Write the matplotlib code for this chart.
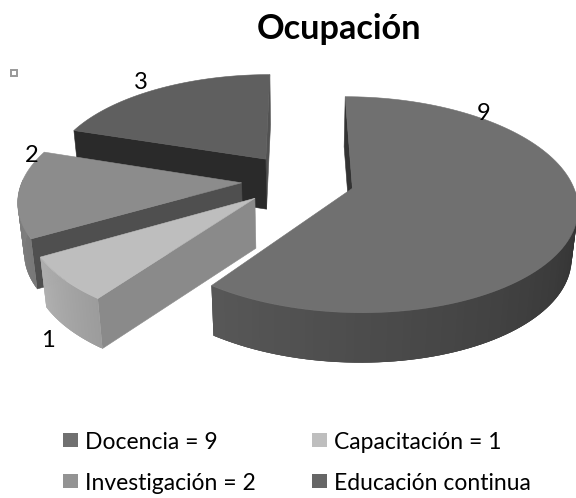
"""Ocupación: exploded 3D pie drawn by hand, matplotlib's pie has no perspective."""
import matplotlib

matplotlib.use("Agg")
import matplotlib.pyplot as plt
import numpy as np
from matplotlib.patches import Polygon, Rectangle

CATEGORIES = ["Docencia", "Capacitación", "Investigación", "Educación continua"]
VALUES = [9, 1, 2, 3]
LEGEND_LABELS = ["Docencia = 9", "Capacitación = 1", "Investigación = 2", "Educación continua"]
TITLE = "Ocupación"

# projection, in output pixels
CX, CY = 298, 180
RX, RY = 219, 103
PERSP = 0.15
EXPLODE = 0.258
DEPTH = 50
DEPTH_SHRINK = 0.977

TOP_COLORS = ["#707070", "#bebebe", "#8c8c8c", "#5f5f5f"]
LEGEND_COLORS = ["#707070", "#bebebe", "#939393", "#666666"]
# side faces that can be seen: (0 = start of the slice, 1 = end of it, colour)
CUT_FACES = [[(0, "#333333")], [(0, "#8a8a8a")], [(0, "#4f4f4f")], [(1, "#525252"), (0, "#2a2a2a")]]
RIM_GRAYS = [(0x30, 0x58), (0x9c, 0xb0), (0x78, 0x80), (0x50, 0x50)]
LABEL_POS = [(484, 113), (48, 340), (32, 155), (141, 82)]
LEGEND_POS = [(63, 433), (312, 433), (63, 474), (312, 474)]

plt.rcParams["font.family"] = ["Lato", "DejaVu Sans"]


def project(x, y):
    s = 1 / (1 + PERSP * y)
    return CX + RX * x * s, CY - RY * y * s


def drop(px, py):
    """Same point on the bottom of the disc."""
    return CX + (px - CX) * DEPTH_SHRINK, py + DEPTH


def ring(theta, ox, oy):
    t = np.radians(theta)
    return project(np.sin(t) + ox, np.cos(t) + oy)


fig = plt.figure(figsize=(5.76, 4.98), dpi=100)
ax = fig.add_axes([0, 0, 1, 1])
ax.set_xlim(0, 576)
ax.set_ylim(498, 0)
ax.axis("off")

ends = np.cumsum(VALUES) / np.sum(VALUES) * 360
starts = np.r_[0, ends[:-1]]

for i in [3, 2, 1, 0]:  # back to front
    a0, a1 = starts[i], ends[i]
    mid = np.radians((a0 + a1) / 2)
    ox, oy = EXPLODE * np.sin(mid), EXPLODE * np.cos(mid)
    apex = project(ox, oy)
    thetas = np.linspace(a0, a1, 120)
    xs, ys = ring(thetas, ox, oy)

    # straight cut faces
    for end, color in CUT_FACES[i]:
        p = ring(a1 if end else a0, ox, oy)
        quad = [apex, p, drop(*p), drop(*apex)]
        ax.add_patch(Polygon(quad, closed=True, fc=color, ec=color, lw=0.4))

    # outer rim, quads overlap the next one so no seams show through the shading
    g_right, g_left = RIM_GRAYS[i]
    vis = np.where((thetas >= 90) & (thetas <= 272))[0]
    for j in vis[:-1]:
        k = min(j + 3, vis[-1])
        g = np.interp(thetas[j], [max(a0, 90), min(a1, 270)], [g_right, g_left])
        c = str(g / 255)
        p0, p1 = (xs[j], ys[j]), (xs[k], ys[k])
        ax.add_patch(Polygon([p0, p1, drop(*p1), drop(*p0)], closed=True, fc=c, ec="none"))

    top = np.column_stack([np.r_[apex[0], xs], np.r_[apex[1], ys]])
    ax.add_patch(Polygon(top, closed=True, fc=TOP_COLORS[i], ec=TOP_COLORS[i], lw=0.4))

for v, (x, y) in zip(VALUES, LABEL_POS):
    ax.text(x, y, str(v), ha="center", va="center", fontsize=17, color="black")

ax.text(339, 29, TITLE, ha="center", va="center", fontsize=24.7, fontweight="bold", color="black")

# stray selection handle in the top left of the original
ax.add_patch(Rectangle((11, 70), 6, 6, fc="white", ec="#999999", lw=1.4))

for label, color, (x, y) in zip(LEGEND_LABELS, LEGEND_COLORS, LEGEND_POS):
    ax.add_patch(Rectangle((x, y), 15, 14, fc=color, ec="none"))
    ax.text(x + 22, y + 9, label, ha="left", va="center", fontsize=16.5, color="black")

fig.savefig("out.png", dpi=100)
